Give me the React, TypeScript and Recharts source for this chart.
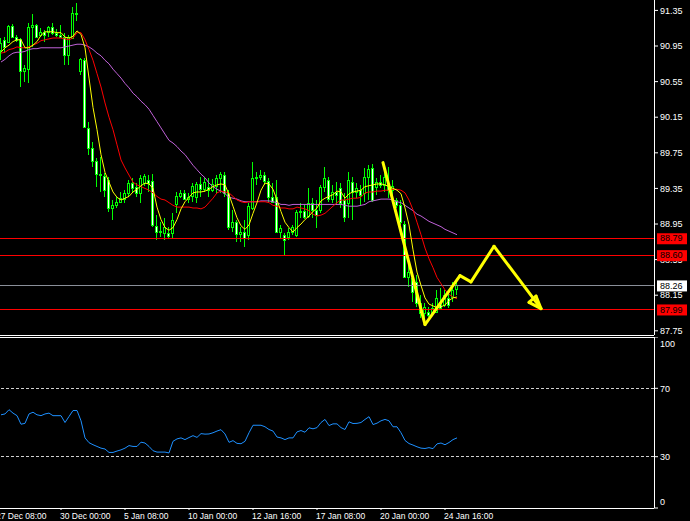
import React from 'react';
import { ComposedChart, Bar, Line, XAxis, YAxis, ReferenceLine } from 'recharts';

// H4 candles
const open = [
  90.91, 91.02, 91.0, 91.18, 91.05, 91.03, 90.67, 90.69, 91.16, 91.19,
  91.07, 91.11, 91.11, 91.16, 91.1, 91.07, 91.05, 90.85, 91.04, 91.32,
  90.67, 90.79, 90.03, 89.8, 89.66, 89.51, 89.49, 89.44, 89.13, 89.16,
  89.2, 89.23, 89.3, 89.41, 89.37, 89.3, 89.41, 89.44, 89.43, 88.93,
  88.86, 88.85, 88.85, 88.85, 89.17, 89.26, 89.3, 89.23, 89.26, 89.25,
  89.4, 89.34, 89.37, 89.33, 89.38, 89.47, 89.5, 89.3, 88.92, 88.97,
  88.84, 88.86, 88.83, 89.13, 89.47, 89.48, 89.5, 89.43, 89.25, 89.25,
  88.86, 88.83, 88.8, 88.86, 88.83, 89.09, 89.1, 89.04, 89.19, 89.11,
  89.11, 89.37, 89.44, 89.23, 89.31, 89.35, 89.22, 89.19, 89.42, 89.31,
  89.33, 89.3, 89.48, 89.58, 89.37, 89.42, 89.39, 89.39, 89.33, 89.22,
  89.16, 88.95, 88.35, 88.34, 88.3, 88.06, 87.95, 87.96, 87.95, 87.96,
  88.07, 88.04, 88.12, 88.13, 88.22,
];
const high = [
  91.04, 91.05, 91.19, 91.2, 91.07, 91.04, 90.74, 91.21, 91.31, 91.2,
  91.15, 91.13, 91.18, 91.21, 91.14, 91.19, 91.1, 91.07, 91.39, 91.43,
  90.82, 90.82, 90.1, 89.87, 89.69, 89.7, 89.52, 89.48, 89.22, 89.25,
  89.31, 89.33, 89.44, 89.47, 89.41, 89.5, 89.51, 89.5, 89.51, 89.05,
  88.97, 89.02, 88.92, 89.07, 89.31, 89.33, 89.33, 89.3, 89.41, 89.42,
  89.48, 89.47, 89.47, 89.46, 89.5, 89.53, 89.53, 89.33, 89.11, 89.0,
  88.92, 89.0, 89.19, 89.65, 89.53, 89.56, 89.53, 89.47, 89.41, 89.44,
  88.94, 88.85, 88.91, 88.94, 89.11, 89.19, 89.16, 89.35, 89.24, 89.22,
  89.39, 89.59, 89.48, 89.39, 89.42, 89.41, 89.3, 89.53, 89.48, 89.41,
  89.39, 89.58, 89.61, 89.62, 89.47, 89.5, 89.58, 89.59, 89.44, 89.24,
  89.22, 88.98, 88.49, 88.38, 88.38, 88.15, 88.06, 88.02, 88.06, 88.21,
  88.23, 88.21, 88.17, 88.3, 88.3,
];
const low = [
  90.79, 90.87, 90.98, 91.04, 91.0, 90.49, 90.55, 90.53, 90.94, 91.04,
  91.05, 91.0, 91.05, 91.07, 91.05, 91.04, 90.74, 90.74, 91.03, 91.23,
  90.62, 90.03, 89.73, 89.59, 89.37, 89.31, 89.25, 89.09, 89.0, 89.13,
  89.19, 89.19, 89.25, 89.3, 89.25, 89.19, 89.38, 89.31, 88.92, 88.77,
  88.8, 88.77, 88.79, 88.79, 89.07, 89.24, 89.22, 89.19, 89.2, 89.19,
  89.25, 89.31, 89.25, 89.31, 89.3, 89.3, 89.25, 88.88, 88.86, 88.75,
  88.75, 88.69, 88.77, 89.11, 89.39, 89.44, 89.39, 89.19, 89.19, 88.86,
  88.79, 88.6, 88.77, 88.83, 88.8, 89.02, 89.01, 89.02, 89.02, 88.91,
  89.07, 89.31, 89.2, 89.19, 89.16, 89.13, 88.97, 89.02, 89.0, 89.24,
  89.16, 89.2, 89.22, 89.2, 89.28, 89.35, 89.31, 89.24, 89.22, 89.13,
  88.94, 88.34, 88.24, 88.07, 88.02, 87.89, 87.85, 87.91, 87.93, 87.95,
  88.0, 88.02, 88.01, 88.07, 88.15,
];
const close = [
  90.98, 90.94, 91.18, 91.05, 91.02, 90.67, 90.7, 91.16, 91.19, 91.05,
  91.11, 91.07, 91.16, 91.1, 91.07, 91.05, 90.85, 91.05, 91.32, 91.31,
  90.8, 90.04, 89.8, 89.66, 89.51, 89.5, 89.33, 89.13, 89.16, 89.2,
  89.24, 89.3, 89.41, 89.35, 89.3, 89.47, 89.49, 89.41, 88.94, 88.86,
  88.87, 88.92, 88.82, 89.0, 89.26, 89.3, 89.23, 89.25, 89.38, 89.4,
  89.34, 89.42, 89.33, 89.4, 89.47, 89.51, 89.3, 88.92, 88.97, 88.84,
  88.86, 88.79, 89.15, 89.47, 89.48, 89.5, 89.43, 89.25, 89.2, 88.86,
  88.91, 88.77, 88.86, 88.92, 89.09, 89.1, 89.03, 89.19, 89.11, 89.05,
  89.37, 89.47, 89.23, 89.31, 89.28, 89.19, 89.03, 89.44, 89.31, 89.35,
  89.28, 89.48, 89.57, 89.22, 89.42, 89.39, 89.48, 89.33, 89.38, 89.16,
  88.97, 88.35, 88.41, 88.19, 88.06, 87.95, 88.02, 87.93, 88.01, 88.12,
  88.01, 88.15, 88.04, 88.21, 88.26,
];

// moving averages (yellow / red / violet)
const maFast = [
  90.88, 90.93, 90.96, 91.0, 91.02, 91.02, 90.93, 90.93, 90.96, 91.0,
  91.07, 91.11, 91.11, 91.11, 91.1, 91.1, 91.05, 91.04, 91.06, 91.12,
  91.08, 90.93, 90.59, 90.26, 90.01, 89.73, 89.53, 89.42, 89.31, 89.25,
  89.22, 89.24, 89.26, 89.31, 89.34, 89.38, 89.41, 89.4, 89.35, 89.14,
  89.0, 88.91, 88.88, 88.91, 89.0, 89.12, 89.2, 89.25, 89.3, 89.31,
  89.31, 89.32, 89.34, 89.37, 89.39, 89.4, 89.39, 89.28, 89.15, 89.02,
  88.93, 88.89, 88.94, 89.07, 89.19, 89.33, 89.41, 89.4, 89.34, 89.22,
  89.09, 88.97, 88.91, 88.86, 88.91, 88.95, 89.0, 89.04, 89.09, 89.13,
  89.21, 89.24, 89.26, 89.28, 89.32, 89.31, 89.24, 89.29, 89.31, 89.32,
  89.33, 89.37, 89.38, 89.39, 89.4, 89.4, 89.39, 89.37, 89.35, 89.33,
  89.29, 89.13, 88.94, 88.66, 88.41, 88.26, 88.12, 88.05, 88.03, 88.01,
  88.02, 88.04, 88.09, 88.12, 88.13,
];
const maMid = [
  90.87, 90.88, 90.91, 90.92, 90.94, 90.93, 90.93, 90.94, 90.96, 90.98,
  91.01, 91.02, 91.03, 91.04, 91.04, 91.04, 91.03, 91.02, 91.04, 91.1,
  91.1, 91.02, 90.91, 90.79, 90.64, 90.49, 90.31, 90.15, 90.01, 89.84,
  89.67, 89.58, 89.5, 89.42, 89.39, 89.37, 89.35, 89.33, 89.3, 89.26,
  89.23, 89.22, 89.19, 89.16, 89.14, 89.14, 89.14, 89.14, 89.13, 89.13,
  89.12, 89.14, 89.19, 89.24, 89.3, 89.32, 89.31, 89.3, 89.26, 89.22,
  89.2, 89.19, 89.2, 89.2, 89.2, 89.2, 89.2, 89.19, 89.16, 89.15,
  89.13, 89.13, 89.12, 89.12, 89.14, 89.13, 89.12, 89.1, 89.06, 89.04,
  89.05, 89.07, 89.11, 89.15, 89.19, 89.22, 89.22, 89.23, 89.24, 89.24,
  89.25, 89.3, 89.31, 89.31, 89.32, 89.32, 89.33, 89.33, 89.34, 89.34,
  89.33, 89.3, 89.22, 89.11, 88.97, 88.83, 88.68, 88.56, 88.46, 88.35,
  88.28, 88.21, 88.16, 88.13, 88.11,
];
const maSlow = [
  90.77, 90.8, 90.84, 90.87, 90.88, 90.88, 90.89, 90.91, 90.92, 90.92,
  90.93, 90.93, 90.93, 90.93, 90.93, 90.93, 90.94, 90.95, 90.96, 90.97,
  90.97, 90.96, 90.94, 90.91, 90.87, 90.84, 90.79, 90.75, 90.69, 90.64,
  90.59, 90.53, 90.48, 90.42, 90.38, 90.33, 90.29, 90.24, 90.17, 90.1,
  90.03, 89.96, 89.89, 89.86, 89.82, 89.77, 89.73, 89.67, 89.61, 89.56,
  89.51, 89.47, 89.41, 89.37, 89.34, 89.32, 89.29, 89.25, 89.24, 89.23,
  89.21, 89.2, 89.2, 89.2, 89.2, 89.21, 89.21, 89.21, 89.2, 89.19,
  89.17, 89.17, 89.16, 89.17, 89.17, 89.17, 89.17, 89.17, 89.17, 89.17,
  89.17, 89.17, 89.17, 89.17, 89.17, 89.17, 89.16, 89.15, 89.15, 89.15,
  89.16, 89.17, 89.2, 89.21, 89.22, 89.23, 89.23, 89.23, 89.22, 89.2,
  89.19, 89.16, 89.13, 89.1, 89.06, 89.04, 89.01, 88.98, 88.96, 88.94,
  88.92, 88.89, 88.87, 88.85, 88.83,
];

const rsi = [
  54.5, 55, 57.5, 55.5, 54, 49, 49.5, 55, 56, 54.5,
  54, 55, 55.5, 54, 54, 54, 50, 53.5, 57, 57,
  51, 41, 38.2, 37, 36, 35, 34.5, 32.5, 32.5, 33.3,
  34, 35, 36.5, 36, 36, 38.5, 38, 36, 33.5, 32.7,
  32.7, 32.7, 32.2, 39, 40.4, 41, 40, 41.2, 42.3, 41.3,
  43.5, 43.2, 43.3, 44, 45, 45.8, 43.3, 38.4, 39.4, 37.8,
  37.6, 39, 44, 48.4, 48.4, 48.4, 47.5, 45.9, 45, 41.5,
  41, 40, 41, 41, 44.5, 45.3, 44.3, 46.9, 46.3, 47,
  50, 51.8, 48.2, 49.2, 49.2, 47, 45.9, 50.4, 49.4, 49.5,
  50, 51.8, 53.4, 48.8, 49.6, 51, 51.8, 51, 47.5, 47.5,
  44, 39.5, 37.7, 36.8, 35.8, 35, 34.8, 35.3, 34.7, 37.5,
  38, 37, 38.3, 40, 41,
];

const priceTicks = [87.75, 88.15, 88.55, 88.95, 89.35, 89.75, 90.15, 90.55, 90.95, 91.35];
const rsiTicks = [0, 30, 70, 100];
const rsiLevels = [30, 70];
const timeTickBars = [-1, 15, 31, 47, 63, 79, 95, 111];
const timeLabels = [
  '27 Dec 08:00', '30 Dec 00:00', '5 Jan 08:00', '10 Jan 00:00',
  '12 Jan 16:00', '17 Jan 08:00', '20 Jan 00:00', '24 Jan 16:00',
];

// horizontal levels: price, line colour, tag colour, tag text colour
const levelPrices = [88.79, 88.6, 88.26, 87.99];
const levelColors = ['#ff0000', '#ff0000', '#8a8f99', '#ff0000'];
const tagColors = ['#ff0000', '#ff0000', '#ffffff', '#ff0000'];
const tagText = ['#000000', '#000000', '#000000', '#000000'];

// hand drawn yellow projection (bar index, price)
const pathBars = [95.5, 106, 114.75, 117.5, 123.25, 135];
const pathPrices = [89.64, 87.82, 88.37, 88.3, 88.7, 88.0];
const headBars = [132, 133.75, 135];
const headPrices = [88.07, 88.14, 88.0];

const bars = open.map((o, i) => ({
  i,
  open: o,
  high: high[i],
  low: low[i],
  close: close[i],
  maFast: maFast[i],
  maMid: maMid[i],
  maSlow: maSlow[i],
  rsi: rsi[i],
}));

const FONT = 'Liberation Sans, Arial, sans-serif';
const CANDLE = '#00ff00';
const X_DOMAIN = [-0.25, 163.25];
const PRICE_DOMAIN = [87.703, 91.467];

const Candle = (props: any) => {
  const { x, width, payload } = props;
  let { y, height } = props;
  if (x == null || !payload) return null;
  if (height < 0) {
    y += height;
    height = -height;
  }
  const c = Math.floor(x + width / 2);
  const span = payload.high - payload.low || 1;
  const toY = (v: number) => y + ((payload.high - v) / span) * height;
  const bodyTop = Math.round(toY(Math.max(payload.open, payload.close)));
  const bodyBot = Math.max(Math.round(toY(Math.min(payload.open, payload.close))), bodyTop + 1);
  const bull = payload.close >= payload.open;
  const wTop = Math.round(y);
  const wBot = Math.round(y + height);
  return (
    <g shapeRendering="crispEdges">
      <rect x={c} y={wTop} width={1} height={Math.max(1, wBot - wTop)} fill={CANDLE} />
      <rect x={c - 1} y={bodyTop} width={3} height={bodyBot - bodyTop + 1} fill={CANDLE} />
      {bodyBot - bodyTop > 1 && (
        <rect x={c} y={bodyTop + 1} width={1} height={bodyBot - bodyTop - 1} fill={bull ? '#000' : '#fff'} />
      )}
    </g>
  );
};

const priceTag = (value: number, bg: string, fg: string) => (props: any) => {
  const vb = props.viewBox;
  if (!vb) return null;
  const x0 = vb.x + vb.width + 3;
  return (
    <g>
      <rect x={x0} y={vb.y - 5} width={30} height={11} fill={bg} />
      <text x={x0 + 3} y={vb.y} dy="0.36em" fontSize={9} fontFamily={FONT} fill={fg}>
        {value.toFixed(2)}
      </text>
    </g>
  );
};

const RsiTick = (props: any) => {
  const { x, y, payload } = props;
  const v = payload.value;
  const shift = v === 100 ? 7 : v === 0 ? -6 : 0;
  return (
    <text x={x} y={y + shift} dy="0.36em" fontSize={9} fontFamily={FONT} fill="#fff">
      {v}
    </text>
  );
};

const TimeTick = (props: any) => {
  const { x, y, payload } = props;
  const k = timeTickBars.indexOf(payload.value);
  return (
    <text x={x - 1} y={y + 9} fontSize={8.5} fontFamily={FONT} fill="#fff">
      {timeLabels[k]}
    </text>
  );
};

export default function App() {
  return (
    <div style={{ position: 'absolute', left: 0, top: 0, width: 690, height: 521, background: '#000', overflow: 'hidden' }}>
      <div style={{ position: 'absolute', left: 0, top: 0 }}>
        <ComposedChart width={690} height={336} data={bars} margin={{ top: 0, right: 0, bottom: 0, left: 0 }}>
          <XAxis
            dataKey="i"
            type="number"
            domain={X_DOMAIN}
            allowDataOverflow
            height={1}
            tick={false}
            tickLine={false}
            axisLine={{ stroke: '#fff', shapeRendering: 'crispEdges' }}
          />
          <YAxis
            orientation="right"
            width={36}
            type="number"
            domain={PRICE_DOMAIN}
            allowDataOverflow
            ticks={priceTicks}
            interval={0}
            tickFormatter={(v: number) => v.toFixed(2)}
            tick={{ fill: '#fff', fontSize: 9, fontFamily: FONT }}
            tickSize={4}
            tickMargin={2}
            tickLine={{ stroke: '#fff' }}
            axisLine={{ stroke: '#fff', shapeRendering: 'crispEdges' }}
          />
          {levelPrices.map((p, k) => (
            <ReferenceLine key={'lv' + k} y={p} stroke={levelColors[k]} strokeWidth={1} shapeRendering="crispEdges" />
          ))}
          <Bar
            dataKey={(d: any) => [d.low, d.high]}
            barSize={3}
            shape={(p: any) => <Candle {...p} />}
            isAnimationActive={false}
          />
          <Line dataKey="maSlow" stroke="#c062d8" strokeWidth={1} dot={false} activeDot={false} isAnimationActive={false} />
          <Line dataKey="maMid" stroke="#ff0000" strokeWidth={1} dot={false} activeDot={false} isAnimationActive={false} />
          <Line dataKey="maFast" stroke="#ffff00" strokeWidth={1} dot={false} activeDot={false} isAnimationActive={false} />
          {pathBars.slice(1).map((b, k) => (
            <ReferenceLine
              key={'tr' + k}
              segment={[
                { x: pathBars[k], y: pathPrices[k] },
                { x: b, y: pathPrices[k + 1] },
              ]}
              stroke="#ffff00"
              strokeWidth={3}
              strokeLinecap="round"
            />
          ))}
          {headBars.map((b, k) => {
            const n = (k + 1) % headBars.length;
            return (
              <ReferenceLine
                key={'hd' + k}
                segment={[
                  { x: b, y: headPrices[k] },
                  { x: headBars[n], y: headPrices[n] },
                ]}
                stroke="#ffff00"
                strokeWidth={3}
                strokeLinecap="round"
              />
            );
          })}
        </ComposedChart>
      </div>
      {/* price tags sit on top of the axis labels */}
      <div style={{ position: 'absolute', left: 0, top: 0, pointerEvents: 'none' }}>
        <ComposedChart width={690} height={336} data={bars} margin={{ top: 0, right: 36, bottom: 1, left: 0 }}>
          <XAxis dataKey="i" type="number" domain={X_DOMAIN} allowDataOverflow hide />
          <YAxis type="number" domain={PRICE_DOMAIN} allowDataOverflow hide />
          {levelPrices.map((p, k) => (
            <ReferenceLine
              key={'tag' + k}
              y={p}
              stroke="none"
              label={priceTag(p, tagColors[k], tagText[k])}
            />
          ))}
        </ComposedChart>
      </div>
      <div style={{ position: 'absolute', left: 0, top: 337 }}>
        <ComposedChart width={690} height={184} data={bars} margin={{ top: 0, right: 0, bottom: 0, left: 0 }}>
          <XAxis
            dataKey="i"
            type="number"
            domain={X_DOMAIN}
            allowDataOverflow
            ticks={timeTickBars}
            interval={0}
            height={13}
            tick={<TimeTick />}
            tickSize={2}
            tickMargin={0}
            tickLine={{ stroke: '#fff' }}
            axisLine={{ stroke: '#fff', shapeRendering: 'crispEdges' }}
          />
          <YAxis
            orientation="right"
            width={36}
            type="number"
            domain={[0, 100]}
            allowDataOverflow
            ticks={rsiTicks}
            interval={0}
            tick={<RsiTick />}
            tickSize={4}
            tickMargin={2}
            tickLine={{ stroke: '#fff' }}
            axisLine={{ stroke: '#fff', shapeRendering: 'crispEdges' }}
          />
          <ReferenceLine y={100} stroke="#fff" shapeRendering="crispEdges" />
          {rsiLevels.map((v) => (
            <ReferenceLine key={'r' + v} y={v} stroke="#d0d0d0" strokeDasharray="3 2" shapeRendering="crispEdges" />
          ))}
          <Line dataKey="rsi" stroke="#1e90ff" strokeWidth={1} dot={false} activeDot={false} isAnimationActive={false} />
        </ComposedChart>
      </div>
    </div>
  );
}
